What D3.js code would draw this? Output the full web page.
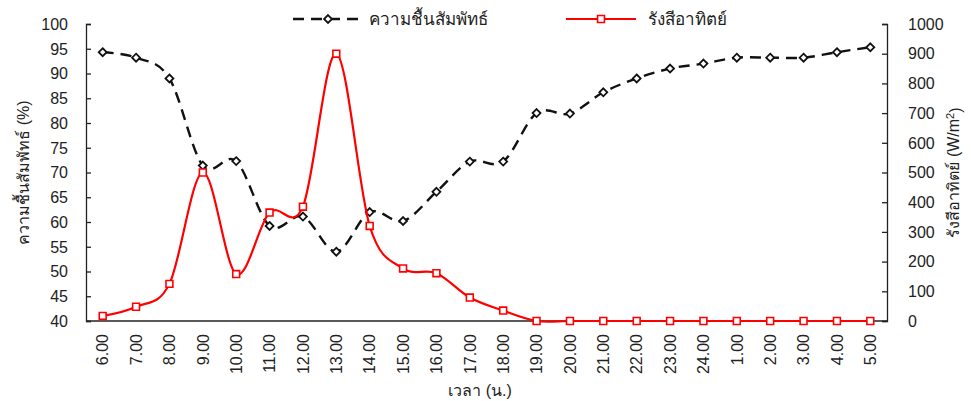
<!DOCTYPE html>
<html>
<head>
<meta charset="utf-8">
<script src="https://cdn.jsdelivr.net/npm/d3@7"></script>
<style>
  body { margin: 0; background: #fff; }
  text { font-family: Tahoma, "Liberation Sans", "Noto Sans", sans-serif; fill: #222; }
</style>
</head>
<body>
<div id="chart"></div>
<script>
// Hours of the day (x categories)
var hours = ["6.00", "7.00", "8.00", "9.00", "10.00", "11.00", "12.00", "13.00", "14.00", "15.00",
    "16.00", "17.00", "18.00", "19.00", "20.00", "21.00", "22.00", "23.00", "24.00",
    "1.00", "2.00", "3.00", "4.00", "5.00"];

// Relative humidity (%) - left axis
var humidity = [94.3, 93.2, 89, 71.4, 72.3, 59.2, 61.1, 54, 62, 60.2,
    66.1, 72.2, 72.2, 82, 81.9, 86.2, 89, 91, 92, 93.2, 93.2, 93.2, 94.3, 95.3];

// Solar radiation (W/m2) - right axis
var radiation = [17, 48, 125, 500, 158, 365, 385, 900, 320, 177,
    161, 79, 35, 0, 0, 0, 0, 0, 0, 0, 0, 0, 0, 0];

var leftTicks = d3.range(40, 101, 5);
var rightTicks = d3.range(0, 1001, 100);

var width = 971;
var height = 401;
var m = { top: 24, right: 84, bottom: 80, left: 86 };

var svg = d3.select("#chart").append("svg")
    .attr("width", width)
    .attr("height", height);

var x = d3.scalePoint()
    .domain(hours)
    .range([m.left, width - m.right])
    .padding(0.5);

var yL = d3.scaleLinear().domain([40, 100]).range([height - m.bottom, m.top]);
var yR = d3.scaleLinear().domain([0, 1000]).range([height - m.bottom, m.top]);

var bottom = height - m.bottom;

// Axes (ticks point inward)
var leftAxis = svg.append("g")
    .attr("transform", "translate(" + m.left + ",0)")
    .call(d3.axisRight(yL).tickValues(leftTicks).tickSize(5).tickFormat(""));
var rightAxis = svg.append("g")
    .attr("transform", "translate(" + (width - m.right) + ",0)")
    .call(d3.axisLeft(yR).tickValues(rightTicks).tickSize(5).tickFormat(""));
[leftAxis, rightAxis].forEach(function(g) {
    g.select(".domain").attr("stroke", "#222").attr("stroke-width", 1.3);
    g.selectAll(".tick line").attr("stroke", "#222").attr("stroke-width", 1.3);
});

svg.append("line")
    .attr("x1", m.left).attr("x2", width - m.right)
    .attr("y1", bottom).attr("y2", bottom)
    .attr("stroke", "#222").attr("stroke-width", 1.3);

// Tick labels
svg.append("g").selectAll("text")
    .data(leftTicks)
    .enter().append("text")
    .attr("x", 68)
    .attr("y", function(d) { return yL(d); })
    .attr("dy", "0.36em")
    .attr("text-anchor", "end")
    .style("font-size", "16px")
    .text(function(d) { return d; });

svg.append("g").selectAll("text")
    .data(rightTicks)
    .enter().append("text")
    .attr("x", 908)
    .attr("y", function(d) { return yR(d); })
    .attr("dy", "0.36em")
    .attr("text-anchor", "start")
    .style("font-size", "16px")
    .text(function(d) { return d; });

svg.append("g").selectAll("text")
    .data(hours)
    .enter().append("text")
    .attr("transform", function(d) { return "translate(" + x(d) + "," + (bottom + 13) + ") rotate(-90)"; })
    .attr("dy", "0.36em")
    .attr("text-anchor", "end")
    .style("font-size", "16px")
    .text(function(d) { return d; });

// Axis titles
svg.append("text")
    .attr("x", 480)
    .attr("y", 396)
    .attr("text-anchor", "middle")
    .style("font-size", "16px")
    .text("เวลา (น.)");

svg.append("text")
    .attr("transform", "translate(29," + (m.top + bottom) / 2 + ") rotate(-90)")
    .attr("text-anchor", "middle")
    .style("font-size", "16px")
    .text("ความชื้นสัมพัทธ์ (%)");

var rt = svg.append("text")
    .attr("transform", "translate(959," + (m.top + bottom) / 2 + ") rotate(-90)")
    .attr("text-anchor", "middle")
    .style("font-size", "16px");
rt.append("tspan").text("รังสีอาทิตย์ (W/m");
rt.append("tspan").attr("dy", "-0.45em").style("font-size", "11px").text("2");
rt.append("tspan").attr("dy", "0.45em").text(")");

// Lines (Excel-style smoothing)
var lineL = d3.line()
    .x(function(d, i) { return x(hours[i]); })
    .y(function(d) { return yL(d); })
    .curve(d3.curveCardinal.tension(0));
var lineR = d3.line()
    .x(function(d, i) { return x(hours[i]); })
    .y(function(d) { return yR(d); })
    .curve(d3.curveCardinal.tension(0));

svg.append("path")
    .attr("d", lineL(humidity))
    .attr("fill", "none")
    .attr("stroke", "#111")
    .attr("stroke-width", 2.4)
    .attr("stroke-dasharray", "11,7");

var diamond = d3.symbol().type(d3.symbolDiamond2).size(40);
var square = d3.symbol().type(d3.symbolSquare2).size(60);

svg.append("g").selectAll("path")
    .data(humidity)
    .enter().append("path")
    .attr("d", diamond)
    .attr("transform", function(d, i) { return "translate(" + x(hours[i]) + "," + yL(d) + ")"; })
    .attr("fill", "#fff")
    .attr("stroke", "#111")
    .attr("stroke-width", 1.8);

svg.append("path")
    .attr("d", lineR(radiation))
    .attr("fill", "none")
    .attr("stroke", "#ff0000")
    .attr("stroke-width", 2.2);

svg.append("g").selectAll("path")
    .data(radiation)
    .enter().append("path")
    .attr("d", square)
    .attr("transform", function(d, i) { return "translate(" + x(hours[i]) + "," + yR(d) + ")"; })
    .attr("fill", "#fff")
    .attr("stroke", "#ff0000")
    .attr("stroke-width", 1.6);

// Legend
var leg = svg.append("g");
leg.append("line")
    .attr("x1", 293).attr("x2", 358).attr("y1", 19).attr("y2", 19)
    .attr("stroke", "#111").attr("stroke-width", 2.4).attr("stroke-dasharray", "11,7");
leg.append("path")
    .attr("d", diamond)
    .attr("transform", "translate(328,19)")
    .attr("fill", "#fff").attr("stroke", "#111").attr("stroke-width", 1.8);
leg.append("text")
    .attr("x", 369).attr("y", 19).attr("dy", "0.36em")
    .style("font-size", "17px")
    .text("ความชื้นสัมพัทธ์");

leg.append("line")
    .attr("x1", 566).attr("x2", 636).attr("y1", 19).attr("y2", 19)
    .attr("stroke", "#ff0000").attr("stroke-width", 2.2);
leg.append("path")
    .attr("d", square)
    .attr("transform", "translate(601,19)")
    .attr("fill", "#fff").attr("stroke", "#ff0000").attr("stroke-width", 1.6);
leg.append("text")
    .attr("x", 648).attr("y", 19).attr("dy", "0.36em")
    .style("font-size", "17px")
    .text("รังสีอาทิตย์");
</script>
</body>
</html>
